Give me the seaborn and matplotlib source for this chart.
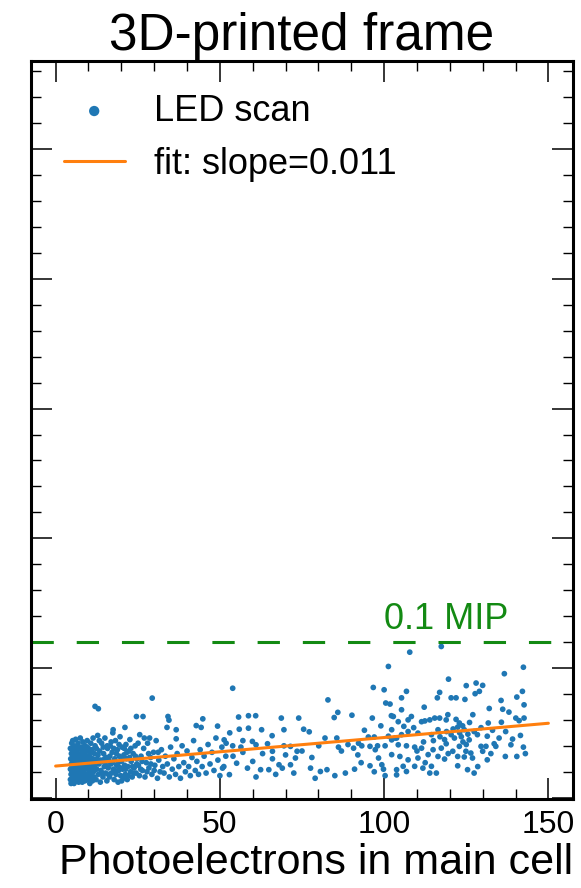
import numpy as np
import pandas as pd
import matplotlib
matplotlib.use("Agg")
import matplotlib.pyplot as plt
from matplotlib.ticker import MultipleLocator
import seaborn as sns

# LED scan points (photoelectrons in main cell, response)
core_pts = [
    (4.5, 0.7), (4.5, 1.1), (4.6, 1.5), (4.5, 1.9), (4.7, 0.9), (4.8, 1.3), (4.8, 1.7), (4.9, 2.1),
    (5.0, 0.6), (5.0, 1.0), (5.1, 1.4), (5.1, 1.8), (5.2, 2.2), (5.3, 0.8), (5.4, 1.2), (5.4, 1.6),
    (5.5, 2.0), (5.6, 0.55), (5.7, 1.05), (5.7, 1.45), (5.8, 1.85), (5.9, 0.75), (6.0, 1.25), (6.0, 1.65),
    (6.1, 2.25), (6.2, 0.95), (6.3, 1.35), (6.3, 1.75), (6.4, 0.65), (6.5, 1.15), (6.5, 1.95), (6.6, 1.55),
    (6.7, 0.85), (6.8, 1.3), (6.8, 2.1), (6.9, 1.7), (7.0, 0.6), (7.0, 1.0), (7.1, 1.45), (7.2, 1.9),
    (7.3, 0.8), (7.4, 1.2), (7.4, 1.6), (7.5, 2.3), (7.6, 0.7), (7.7, 1.1), (7.7, 1.5), (7.8, 1.95),
    (7.9, 0.9), (8.0, 1.35), (8.0, 1.75), (8.1, 0.6), (8.2, 1.05), (8.3, 1.6), (8.3, 2.15), (8.4, 0.8),
    (8.5, 1.25), (8.6, 1.85), (8.7, 0.95), (8.8, 1.45), (8.9, 0.65), (9.0, 1.15), (9.0, 2.0), (9.1, 1.65),
    (9.2, 0.85), (9.3, 1.3), (9.4, 1.8), (9.5, 0.7), (9.6, 1.1), (9.6, 2.2), (9.7, 1.5), (9.8, 0.9),
    (9.9, 1.35), (10.0, 1.9), (10.1, 0.75), (10.2, 1.2), (10.3, 1.6), (10.4, 0.55), (10.5, 1.0), (10.6, 1.75),
    (10.7, 2.1), (10.8, 1.4), (10.9, 0.85), (11.0, 1.15), (11.1, 1.85), (11.2, 0.65), (11.3, 1.5), (11.4, 2.3),
    (11.5, 1.0), (11.6, 1.3), (11.7, 0.8), (11.8, 1.7), (11.9, 1.2), (12.0, 2.0),
    (4.7, 0.55), (4.9, 1.25), (5.2, 1.0), (5.3, 1.55), (5.6, 1.3), (5.8, 0.95), (6.1, 1.45), (6.4, 1.9),
    (6.6, 1.0), (6.9, 1.25), (7.2, 0.7), (7.5, 1.35), (7.8, 1.05), (8.1, 1.5), (8.4, 1.95), (8.7, 1.15),
    (9.0, 0.75), (9.3, 1.55), (9.5, 1.95), (9.8, 1.2), (10.2, 0.9), (10.5, 1.45), (10.9, 1.15), (11.3, 0.7),
    (11.7, 1.45),
]

left_pts = [
    (12.0, 3.52), (13.0, 3.43),
    (12.3, 0.7), (12.5, 1.1), (12.6, 1.5), (12.8, 2.4), (13.0, 0.9), (13.2, 1.3), (13.4, 1.8), (13.6, 0.6),
    (13.8, 1.05), (14.0, 2.1), (14.2, 1.4), (14.4, 0.8), (14.6, 1.7), (14.8, 1.2), (15.0, 2.3), (15.2, 0.95),
    (15.4, 1.55), (15.6, 0.65), (15.8, 1.9), (16.0, 1.15), (16.2, 1.45), (16.4, 0.8), (16.6, 2.0), (16.8, 1.3),
    (17.0, 0.95), (17.2, 1.75), (17.4, 2.5), (17.5, 2.62), (17.6, 1.1), (17.8, 0.7), (18.0, 1.5), (18.2, 2.2),
    (18.4, 0.9), (18.6, 1.25), (18.8, 1.85), (19.0, 0.6), (19.2, 1.05), (19.4, 1.6), (19.6, 2.35), (19.8, 0.85),
    (20.0, 1.4), (20.2, 1.95), (20.4, 1.1), (20.6, 0.75), (20.8, 1.65), (21.1, 2.71), (21.0, 1.25), (21.2, 0.9),
    (21.4, 2.05), (21.6, 1.5), (21.8, 0.7), (22.0, 1.2), (22.3, 1.8), (22.6, 2.24), (22.8, 1.0), (23.0, 1.4),
    (23.3, 0.8), (23.6, 1.7), (23.9, 1.15), (24.2, 2.0), (24.6, 3.13), (24.5, 0.95), (24.8, 1.5), (25.2, 1.25),
    (25.6, 2.43), (25.5, 0.85), (26.6, 3.13),
    (12.4, 1.9), (12.9, 1.65), (13.3, 2.2), (13.7, 1.45), (14.1, 0.95), (14.5, 1.95), (14.9, 1.5), (15.3, 1.25),
    (15.7, 2.0), (16.1, 0.9), (16.5, 1.6), (16.9, 2.15), (17.3, 1.35), (17.7, 1.9), (18.1, 1.05), (18.5, 1.7),
    (18.9, 1.3), (19.3, 2.05), (19.7, 1.15), (20.1, 0.65), (20.5, 1.5), (20.9, 1.9), (21.3, 1.1), (21.7, 1.75),
    (22.1, 0.85), (22.5, 1.55), (22.9, 1.9), (23.4, 1.2), (23.8, 0.95), (24.3, 1.6), (24.7, 1.3), (25.1, 2.1),
    (25.9, 1.1), (26.3, 1.4), (27.0, 2.3), (27.8, 1.0), (28.3, 1.7), (29.0, 1.3), (30.0, 1.05), (31.2, 1.75),
]

mid_pts = [
    (26.0, 1.6), (26.4, 1.05), (26.8, 1.9), (27.2, 0.8), (27.6, 1.35), (28.0, 2.1), (28.4, 1.15), (28.6, 2.3),
    (28.9, 1.55), (29.4, 3.84), (29.3, 0.9), (29.8, 1.75), (30.2, 1.25), (30.6, 2.2), (31.0, 0.75), (31.4, 1.45),
    (31.8, 1.0), (32.2, 1.85), (32.6, 1.2), (33.0, 0.95), (33.4, 1.6), (33.9, 2.71), (34.2, 3.13), (34.5, 2.99),
    (34.0, 1.3), (34.6, 0.8), (35.0, 1.95), (35.5, 1.1), (36.0, 1.5), (36.7, 2.62), (36.7, 2.27), (36.5, 0.9),
    (37.0, 1.7), (37.5, 1.2), (38.0, 0.75), (38.5, 2.0), (39.0, 1.35), (39.5, 1.0), (40.0, 1.8), (40.5, 1.2),
    (41.0, 0.85), (41.5, 1.55), (42.0, 2.2), (42.8, 2.78), (42.5, 1.05), (43.0, 1.4), (43.5, 0.9), (44.3, 2.71),
    (44.8, 3.04), (44.0, 1.85), (44.6, 1.2), (45.2, 1.6), (45.8, 0.95), (46.4, 2.05), (47.0, 1.3), (47.6, 1.75),
    (48.2, 1.05), (48.8, 2.3), (49.3, 2.76), (49.4, 1.45), (50.0, 0.85), (50.6, 1.95), (51.2, 1.2), (51.8, 1.6),
]

centre_pts = [
    (53.9, 4.22), (55.7, 3.11), (58.7, 3.16), (60.9, 3.16), (58.7, 2.68), (55.9, 2.64), (62.7, 2.62), (68.7, 3.07),
    (69.5, 2.62), (74.0, 3.07), (75.5, 2.64), (77.2, 2.54), (82.9, 3.77), (85.9, 3.29), (84.8, 3.09), (90.2, 3.18),
    (96.7, 4.25), (100.0, 4.16), (101.3, 5.06), (100.5, 3.65), (101.8, 3.61), (96.4, 3.07), (99.0, 2.77), (102.2, 3.16),
    (97.0, 2.34), (95.2, 2.34), (65.9, 2.39),
    (50.8, 1.14), (52.9, 0.89), (55.1, 1.33), (58.4, 1.14), (62.4, 1.08), (64.9, 1.08), (68.0, 1.27), (69.0, 1.14),
    (71.5, 1.27), (73.0, 1.53), (72.5, 0.95), (77.6, 1.14), (80.6, 1.01), (82.6, 1.08), (88.2, 0.95), (92.0, 1.65),
    (95.7, 1.23), (98.3, 1.53), (99.3, 1.27), (99.8, 1.10), (100.3, 0.85),
    (51.3, 2.23), (51.9, 2.10), (53.9, 2.00), (56.4, 1.95), (59.9, 2.17), (61.0, 2.04), (64.5, 2.08), (66.0, 1.79),
    (69.5, 2.00), (71.5, 1.98), (73.5, 1.79), (80.1, 2.00), (85.6, 2.30), (86.1, 1.95), (90.7, 1.91), (92.2, 2.10),
    (93.2, 2.00), (95.7, 1.98), (97.3, 1.85), (100.3, 2.00), (102.3, 2.23), (103.8, 2.30),
    (54.0, 1.6), (57.0, 1.75), (60.0, 1.4), (63.0, 1.7), (66.0, 1.5), (70.0, 1.65), (75.0, 1.8), (78.0, 1.55),
    (82.0, 2.3), (87.0, 1.8), (89.0, 2.05), (93.0, 1.35), (97.0, 1.0), (53.0, 2.5), (57.0, 2.2), (61.0, 0.8),
    (67.0, 0.9), (79.0, 0.75), (85.0, 0.85), (91.0, 1.1), (94.0, 2.6), (98.0, 2.0),
]

right_pts = [
    (107.8, 5.61), (117.4, 5.83), (142.4, 5.03), (136.6, 4.78), (119.6, 4.57), (128.0, 4.42), (130.0, 4.33),
    (129.0, 4.10), (127.7, 4.01), (125.0, 4.32), (116.9, 4.06), (120.4, 3.85), (121.9, 3.85), (124.6, 3.79),
    (116.2, 3.85), (105.3, 3.85), (106.8, 4.10), (102.8, 3.13), (105.3, 3.39), (112.2, 3.49), (135.6, 3.75),
    (136.1, 3.41), (140.4, 3.88), (142.1, 4.10), (142.6, 3.58), (132.0, 3.44), (140.1, 3.07), (141.1, 2.97),
    (142.6, 3.07), (131.7, 2.88), (135.7, 2.91),
    (139.1, 2.26), (142.4, 1.95), (138.6, 2.04), (133.5, 2.08), (134.0, 1.98), (131.0, 1.98), (130.0, 1.79),
    (125.9, 2.23), (126.4, 1.72), (126.9, 1.53), (122.9, 2.88), (121.9, 3.02), (122.4, 2.72), (123.9, 2.77),
    (124.4, 2.62),
    (119.4, 3.20), (118.9, 3.00), (116.9, 3.07), (115.4, 3.07), (113.9, 3.00), (112.4, 2.96), (111.4, 2.93),
    (108.3, 3.13), (107.3, 3.00), (104.3, 2.93), (102.3, 2.62),
    (101.3, 2.37), (103.3, 2.30), (105.3, 2.43), (107.3, 2.55), (110.3, 2.49), (114.4, 2.43), (116.4, 2.62),
    (118.4, 2.24), (120.4, 2.43), (121.4, 2.30), (127.4, 2.55), (128.4, 2.43), (131.4, 2.37),
    (104.3, 2.04), (106.8, 2.00), (109.3, 1.95), (111.4, 1.91), (114.9, 1.85), (117.4, 1.91), (118.9, 2.08),
    (120.9, 1.79), (122.9, 1.98), (124.9, 1.79), (129.5, 1.98),
    (102.3, 1.66), (104.8, 1.59), (107.3, 1.46), (110.3, 1.53), (113.4, 1.66), (116.4, 1.59), (118.4, 1.49),
    (122.4, 1.59), (124.4, 1.57), (105.8, 1.21), (109.3, 1.21), (111.8, 1.14), (114.4, 1.21), (106.8, 1.01),
    (103.8, 0.88), (103.8, 1.08), (113.9, 0.95), (115.9, 0.95), (122.4, 1.23), (125.4, 1.08), (127.4, 0.95),
    (131.4, 1.46), (136.9, 1.59), (140.4, 1.59),
    (123.0, 2.5), (123.5, 2.35), (124.0, 2.15), (125.0, 2.05), (125.5, 2.45), (126.0, 2.9), (121.0, 2.65),
    (119.0, 2.55), (117.0, 2.35), (115.0, 2.2), (112.0, 2.15), (109.0, 2.7), (106.0, 2.75), (133.0, 2.6),
    (137.0, 2.55), (138.0, 3.3), (129.5, 2.7), (127.0, 3.2), (110.0, 1.8), (112.5, 1.35), (119.5, 1.7),
    (128.5, 1.2), (132.5, 1.7), (135.0, 2.3), (141.5, 2.4), (143.0, 1.7),
]

# linear fit drawn over 0..150 PE
fit_x = [0, 150]
fit_y = [1.22, 2.87]
fit_label = "fit: slope=0.011"

mip_level = 6.0
mip_label = "0.1 MIP"

scan = pd.DataFrame(core_pts + left_pts + mid_pts + centre_pts + right_pts, columns=["pe", "resp"])

sns.set_style("ticks")
plt.rcParams["font.family"] = ["Liberation Sans", "DejaVu Sans"]
plt.rcParams.update({
    "text.color": "black",
    "axes.labelcolor": "black",
    "axes.edgecolor": "black",
    "xtick.color": "black",
    "ytick.color": "black",
})

fig = plt.figure(figsize=(5.81, 8.88), dpi=100)
ax = fig.add_axes([31 / 581, 1 - 799 / 888, 542 / 581, 738 / 888])

sns.scatterplot(data=scan, x="pe", y="resp", ax=ax, s=17, color="#1f77b4",
                edgecolor="none", label="LED scan")
sns.lineplot(x=fit_x, y=fit_y, ax=ax, color="#ff7f0e", lw=2.2, label=fit_label)
ax.axhline(mip_level, color="#138a13", lw=2.2, linestyle=(0, (7.3, 7.5)))
ax.text(100, mip_level + 0.2, mip_label, color="#138a13", fontsize=26, ha="left", va="bottom")

ax.set_xlim(-7.5, 157.5)
ax.set_ylim(-0.05, 28.4)
ax.xaxis.set_major_locator(MultipleLocator(50))
ax.xaxis.set_minor_locator(MultipleLocator(10))
ax.yaxis.set_major_locator(MultipleLocator(5))
ax.yaxis.set_minor_locator(MultipleLocator(1))
ax.tick_params(which="both", direction="in", top=True, right=True, labelleft=False)
ax.tick_params(which="major", length=15, width=1.1, labelsize=23, pad=8)
ax.tick_params(which="minor", length=7.5, width=1.0)
for sp in ax.spines.values():
    sp.set_linewidth(2.2)
    sp.set_color("black")

ax.set_xlabel("Photoelectrons in main cell", fontsize=31, loc="right", labelpad=2)
ax.set_ylabel("")
ax.set_title("3D-printed frame", fontsize=37, pad=4)

ax.legend(loc="upper left", frameon=False, fontsize=26, markerscale=1.8,
          handlelength=1.7, handletextpad=0.8)

fig.savefig("out.png", dpi=100)
